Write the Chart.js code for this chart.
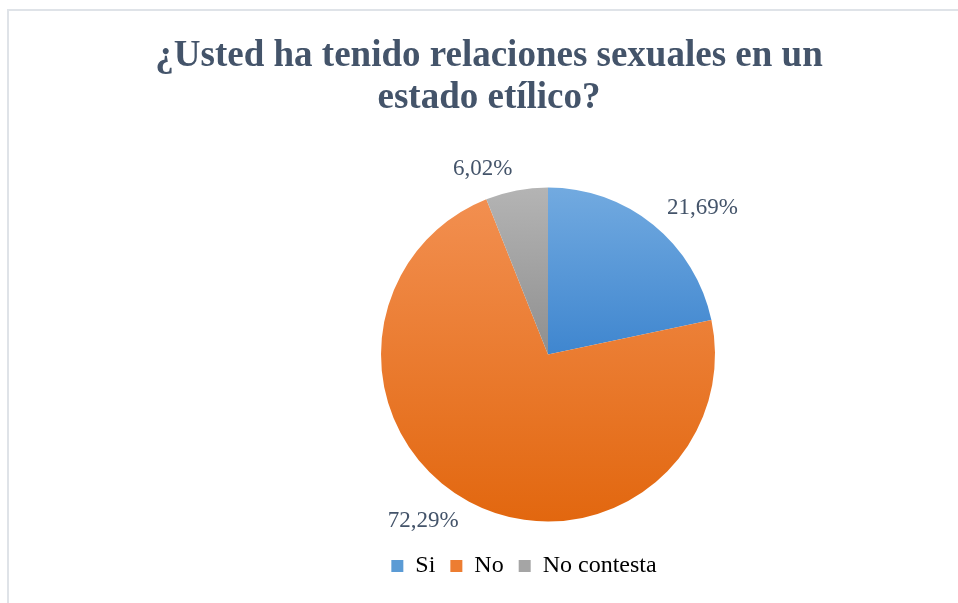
<!DOCTYPE html>
<html lang="es">
<head>
<meta charset="UTF-8">
<title>¿Usted ha tenido relaciones sexuales en un estado etílico?</title>
<script src="https://cdn.jsdelivr.net/npm/chart.js@4"></script>
<style>
  html, body { margin: 0; padding: 0; background: #fff; overflow: hidden; }
  #wrap { position: relative; width: 958px; height: 603px; }
  #frame { position: absolute; left: 7px; top: 9px; right: -4px; bottom: -4px;
           border-left: 2px solid #dfe3e8; border-top: 2px solid #dfe3e8; }
  #chart { position: absolute; left: 0; top: 0; }
</style>
</head>
<body>
<div id="wrap">
  <div id="frame"></div>
  <canvas id="chart" width="958" height="603"></canvas>
</div>
<script>
const categories = ['Si', 'No', 'No contesta'];
const percentages = [21.69, 72.29, 6.02];

// slice shading: light at the top of each slice, darker at the bottom
const topColors = ['#72aae0', '#f28f50', '#b4b4b4'];
const bottomColors = ['#3f86cf', '#e2670f', '#8f8f8f'];
const legendColors = ['#5b9bd5', '#ed7d31', '#a5a5a5'];

const TEXT = '#44546a';
const SERIF = '"Liberation Serif", "Times New Roman", serif';
const PIE_RADIUS = 167;
const TITLE_SHIFT = -59;
const LEGEND_SHIFT = -24;

function angleIn(a, start, end) {
  let t = a;
  while (t < start) t += Math.PI * 2;
  return t <= end;
}

function sliceGradient(context) {
  const chart = context.chart;
  const area = chart.chartArea;
  const i = context.dataIndex;
  if (!area) return legendColors[i];
  const data = context.dataset.data;
  const total = data.reduce((a, b) => a + b, 0);
  let before = 0;
  for (let k = 0; k < i; k++) before += data[k];
  const start = -Math.PI / 2 + Math.PI * 2 * before / total;
  const end = start + Math.PI * 2 * data[i] / total;
  const cy = (area.top + area.bottom) / 2;
  const ys = [cy, cy + PIE_RADIUS * Math.sin(start), cy + PIE_RADIUS * Math.sin(end)];
  if (angleIn(Math.PI / 2, start, end)) ys.push(cy + PIE_RADIUS);
  if (angleIn(-Math.PI / 2, start, end)) ys.push(cy - PIE_RADIUS);
  const g = chart.ctx.createLinearGradient(0, Math.min(...ys), 0, Math.max(...ys));
  g.addColorStop(0, topColors[i]);
  g.addColorStop(1, bottomColors[i]);
  return g;
}

// percentage labels just outside each slice
const pieLabels = {
  id: 'pieLabels',
  afterDatasetsDraw(chart) {
    const ctx = chart.ctx;
    const meta = chart.getDatasetMeta(0);
    ctx.save();
    ctx.font = '23px ' + SERIF;
    ctx.fillStyle = TEXT;
    ctx.textBaseline = 'middle';
    meta.data.forEach((arc, i) => {
      const p = arc.getProps(['x', 'y', 'startAngle', 'endAngle', 'outerRadius'], true);
      const mid = (p.startAngle + p.endAngle) / 2;
      const r = p.outerRadius + 22;
      ctx.textAlign = Math.cos(mid) >= 0 ? 'left' : 'right';
      const text = percentages[i].toFixed(2).replace('.', ',') + '%';
      ctx.fillText(text, p.x + Math.cos(mid) * r, p.y + Math.sin(mid) * r);
    });
    ctx.restore();
  }
};

// title and legend sit a little left of the pie's centre
const shiftBlocks = {
  id: 'shiftBlocks',
  afterLayout(chart) {
    chart.titleBlock.left += TITLE_SHIFT;
    chart.titleBlock.right += TITLE_SHIFT;
    chart.legend.left += LEGEND_SHIFT;
    chart.legend.right += LEGEND_SHIFT;
  }
};

new Chart(document.getElementById('chart'), {
  type: 'pie',
  data: {
    labels: categories,
    datasets: [{
      data: percentages,
      backgroundColor: sliceGradient,
      borderWidth: 0,
      radius: PIE_RADIUS
    }]
  },
  options: {
    responsive: false,
    animation: false,
    layout: { padding: { left: 138, right: 0, top: 0, bottom: 15 } },
    plugins: {
      title: {
        display: true,
        text: ['¿Usted ha tenido relaciones sexuales en un', 'estado etílico?'],
        color: TEXT,
        font: { family: SERIF, size: 37, weight: 'bold', lineHeight: 1.135 },
        padding: { top: 35, bottom: 51 }
      },
      legend: {
        position: 'bottom',
        labels: {
          color: TEXT,
          font: { family: SERIF, size: 24 },
          boxWidth: 12,
          boxHeight: 12,
          padding: 15,
          generateLabels() {
            return categories.map((c, i) => ({
              text: c,
              fillStyle: legendColors[i],
              strokeStyle: legendColors[i],
              lineWidth: 0,
              index: i,
              hidden: false
            }));
          }
        }
      },
      tooltip: { enabled: false }
    }
  },
  plugins: [pieLabels, shiftBlocks]
});
</script>
</body>
</html>
